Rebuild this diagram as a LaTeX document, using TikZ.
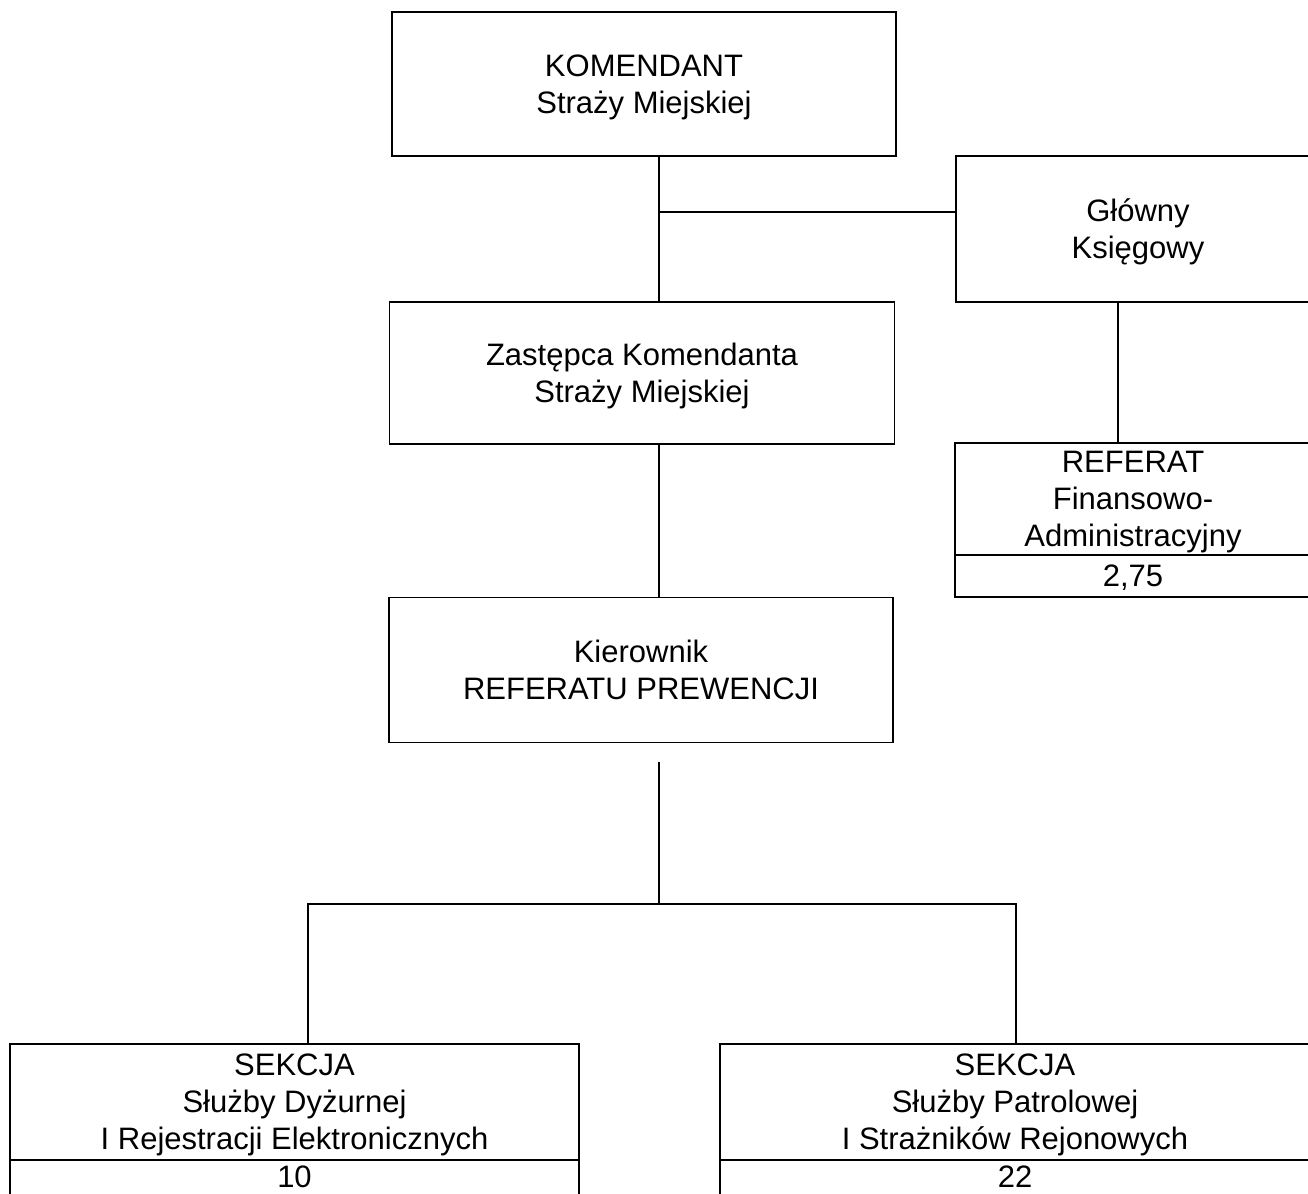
\documentclass[tikz,border=0pt]{standalone}
\usepackage{fontspec}
\setmainfont{Liberation Sans}
\usepackage{tikz}
\usetikzlibrary{positioning, calc}

\begin{document}
\begin{tikzpicture}[x=1pt, y=-1pt, line width=1.7pt,
    pole/.style={draw, rectangle, inner sep=0pt, outer sep=0pt, align=center,
        text depth=0pt, font=\fontsize{31}{37}\selectfont},
    liczba/.style={pole, anchor=north, minimum height=46pt, text depth=12pt}]
    % Obszar rysunku
    \useasboundingbox (0,0) rectangle (1308,1193);
    \fill[white] (0,0) rectangle (1308,1193);
    \clip (0,0) rectangle (1308,1193);
    % Kierownictwo
    \node[pole, minimum width=504pt, minimum height=144pt] (kom) at (644,84)
        {KOMENDANT\\Straży Miejskiej};
    \node[pole, minimum width=364pt, minimum height=146pt] (gk) at (1138,229)
        {Główny\\Księgowy};
    \node[pole, minimum width=505pt, minimum height=142pt] (zast) at (642,373)
        {Zastępca Komendanta\\Straży Miejskiej};
    \node[pole, minimum width=504pt, minimum height=145pt] (kier) at (641,670)
        {Kierownik\\REFERATU PREWENCJI};
    % Referat i sekcje
    \node[pole, minimum width=356pt, minimum height=112pt] (ref) at (1133,499)
        {REFERAT\\Finansowo-\\Administracyjny};
    \node[liczba, minimum width=356pt, minimum height=42pt, text depth=0pt]
        (refnum) at (ref.south) {2,75};
    \node[pole, minimum width=569pt, minimum height=116pt] (sekl) at (294.5,1102)
        {SEKCJA\\Służby Dyżurnej\\I Rejestracji Elektronicznych};
    \node[liczba, minimum width=569pt] (seklnum) at (sekl.south) {10};
    \node[pole, minimum width=590pt, minimum height=116pt] (sekp) at (1015,1102)
        {SEKCJA\\Służby Patrolowej\\I Strażników Rejonowych};
    \node[liczba, minimum width=590pt] (sekpnum) at (sekp.south) {22};
    % Linie
    \coordinate (os) at (659,212);
    \coordinate (oska) at (1118,0);
    \coordinate (rozg) at (659,904);
    \coordinate (lewy) at (308,904);
    \coordinate (prawy) at (1016,904);
    \draw (kom.south -| os) -- (zast.north -| os);
    \draw (os) -- (os -| gk.west);
    \draw (gk.south -| oska) -- (ref.north -| oska);
    \draw (zast.south -| os) -- (kier.north -| os);
    \draw (kier.south -| os) ++(0,19) -- (rozg);
    \draw (sekl.north -| lewy) -- (lewy) -- (prawy) -- (sekp.north -| prawy);
\end{tikzpicture}
\end{document}
